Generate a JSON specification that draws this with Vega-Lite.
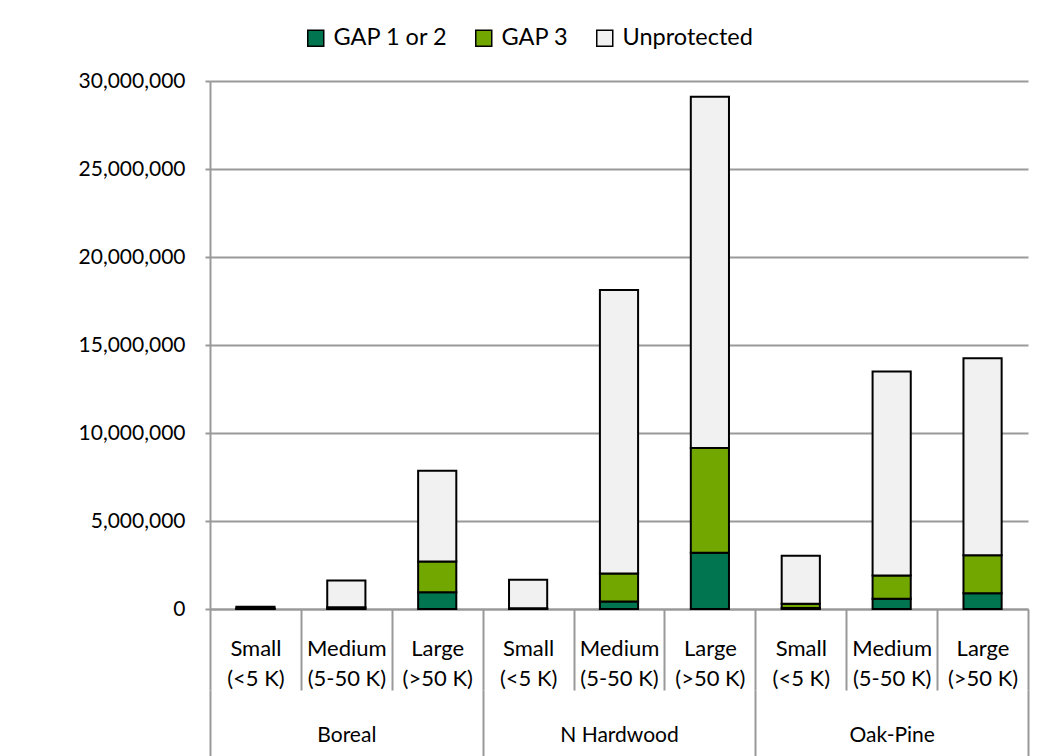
{
  "$schema": "https://vega.github.io/schema/vega-lite/v6.json",
  "width": 818,
  "height": 528,
  "autosize": "none",
  "padding": {"left": 210, "top": 81, "right": 10, "bottom": 147},
  "background": "white",
  "config": {
    "font": "Lato",
    "view": {"stroke": null},
    "axis": {"labelColor": "black", "labelFont": "Lato"}
  },
  "data": {
    "values": [
      {"region": "Boreal", "cat": "Boreal|Small|(<5 K)", "status": "GAP 1 or 2", "ord": 1, "value": 10000},
      {"region": "Boreal", "cat": "Boreal|Small|(<5 K)", "status": "GAP 3", "ord": 2, "value": 20000},
      {"region": "Boreal", "cat": "Boreal|Small|(<5 K)", "status": "Unprotected", "ord": 3, "value": 100000},
      {"region": "Boreal", "cat": "Boreal|Medium|(5-50 K)", "status": "GAP 1 or 2", "ord": 1, "value": 30000},
      {"region": "Boreal", "cat": "Boreal|Medium|(5-50 K)", "status": "GAP 3", "ord": 2, "value": 70000},
      {"region": "Boreal", "cat": "Boreal|Medium|(5-50 K)", "status": "Unprotected", "ord": 3, "value": 1520000},
      {"region": "Boreal", "cat": "Boreal|Large|(>50 K)", "status": "GAP 1 or 2", "ord": 1, "value": 950000},
      {"region": "Boreal", "cat": "Boreal|Large|(>50 K)", "status": "GAP 3", "ord": 2, "value": 1750000},
      {"region": "Boreal", "cat": "Boreal|Large|(>50 K)", "status": "Unprotected", "ord": 3, "value": 5150000},
      {"region": "N Hardwood", "cat": "N Hardwood|Small|(<5 K)", "status": "GAP 1 or 2", "ord": 1, "value": 10000},
      {"region": "N Hardwood", "cat": "N Hardwood|Small|(<5 K)", "status": "GAP 3", "ord": 2, "value": 30000},
      {"region": "N Hardwood", "cat": "N Hardwood|Small|(<5 K)", "status": "Unprotected", "ord": 3, "value": 1620000},
      {"region": "N Hardwood", "cat": "N Hardwood|Medium|(5-50 K)", "status": "GAP 1 or 2", "ord": 1, "value": 420000},
      {"region": "N Hardwood", "cat": "N Hardwood|Medium|(5-50 K)", "status": "GAP 3", "ord": 2, "value": 1600000},
      {"region": "N Hardwood", "cat": "N Hardwood|Medium|(5-50 K)", "status": "Unprotected", "ord": 3, "value": 16100000},
      {"region": "N Hardwood", "cat": "N Hardwood|Large|(>50 K)", "status": "GAP 1 or 2", "ord": 1, "value": 3200000},
      {"region": "N Hardwood", "cat": "N Hardwood|Large|(>50 K)", "status": "GAP 3", "ord": 2, "value": 5950000},
      {"region": "N Hardwood", "cat": "N Hardwood|Large|(>50 K)", "status": "Unprotected", "ord": 3, "value": 19950000},
      {"region": "Oak-Pine", "cat": "Oak-Pine|Small|(<5 K)", "status": "GAP 1 or 2", "ord": 1, "value": 50000},
      {"region": "Oak-Pine", "cat": "Oak-Pine|Small|(<5 K)", "status": "GAP 3", "ord": 2, "value": 250000},
      {"region": "Oak-Pine", "cat": "Oak-Pine|Small|(<5 K)", "status": "Unprotected", "ord": 3, "value": 2720000},
      {"region": "Oak-Pine", "cat": "Oak-Pine|Medium|(5-50 K)", "status": "GAP 1 or 2", "ord": 1, "value": 580000},
      {"region": "Oak-Pine", "cat": "Oak-Pine|Medium|(5-50 K)", "status": "GAP 3", "ord": 2, "value": 1320000},
      {"region": "Oak-Pine", "cat": "Oak-Pine|Medium|(5-50 K)", "status": "Unprotected", "ord": 3, "value": 11600000},
      {"region": "Oak-Pine", "cat": "Oak-Pine|Large|(>50 K)", "status": "GAP 1 or 2", "ord": 1, "value": 900000},
      {"region": "Oak-Pine", "cat": "Oak-Pine|Large|(>50 K)", "status": "GAP 3", "ord": 2, "value": 2150000},
      {"region": "Oak-Pine", "cat": "Oak-Pine|Large|(>50 K)", "status": "Unprotected", "ord": 3, "value": 11200000}
    ]
  },
  "resolve": {"scale": {"x": "independent"}, "axis": {"x": "independent"}},
  "layer": [
    {
      "mark": {"type": "bar", "stroke": "black", "strokeWidth": 2, "width": {"band": 0.42}},
      "encoding": {
        "x": {
          "field": "cat",
          "type": "nominal",
          "sort": null,
          "scale": {"paddingInner": 0, "paddingOuter": 0},
          "axis": {
            "orient": "bottom",
            "title": null,
            "labelExpr": "slice(split(datum.label, '|'), 1)",
            "labelAngle": 0,
            "labelFontSize": 22,
            "labelLineHeight": 30,
            "labelPadding": -52,
            "labelBaseline": "top",
            "ticks": true,
            "tickBand": "extent",
            "tickSize": 81,
            "tickColor": "#999999",
            "tickWidth": 2,
            "domainColor": "#999999",
            "domainWidth": 2,
            "grid": false
          }
        },
        "y": {
          "field": "value",
          "type": "quantitative",
          "stack": "zero",
          "scale": {"domain": [0, 30000000]},
          "axis": {
            "title": null,
            "format": ",.0f",
            "values": [0, 5000000, 10000000, 15000000, 20000000, 25000000, 30000000],
            "labelFontSize": 21,
            "labelPadding": 20,
            "tickSize": 5,
            "tickColor": "#999999",
            "tickWidth": 2,
            "domainColor": "#999999",
            "domainWidth": 2,
            "gridColor": "#999999",
            "gridWidth": 2
          }
        },
        "color": {
          "field": "status",
          "type": "nominal",
          "scale": {
            "domain": ["GAP 1 or 2", "GAP 3", "Unprotected"],
            "range": ["#00754F", "#72A700", "#F1F1F1"]
          },
          "legend": {
            "title": null,
            "orient": "none",
            "direction": "horizontal",
            "legendX": 94,
            "legendY": -55,
            "symbolType": "square",
            "symbolSize": 256,
            "symbolStrokeColor": "black",
            "symbolStrokeWidth": 1.5,
            "labelFontSize": 23.5,
            "labelColor": "black",
            "labelOffset": 6,
            "columnPadding": 24
          }
        },
        "order": {"field": "ord", "type": "quantitative"}
      }
    },
    {
      "mark": {"type": "point", "opacity": 0},
      "encoding": {
        "x": {
          "field": "region",
          "type": "nominal",
          "sort": null,
          "scale": {"type": "band", "paddingInner": 0, "paddingOuter": 0},
          "axis": {
            "orient": "bottom",
            "offset": 81,
            "title": null,
            "labelAngle": 0,
            "labelFontSize": 21,
            "labelPadding": -32,
            "labelBaseline": "top",
            "tickBand": "extent",
            "tickSize": 66,
            "tickColor": "#999999",
            "tickWidth": 2,
            "domain": false,
            "grid": false
          }
        }
      }
    }
  ]
}
